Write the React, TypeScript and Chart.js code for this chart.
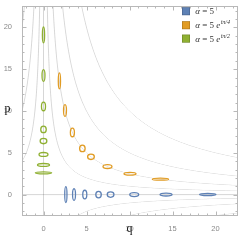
import React, { useEffect, useRef } from "react";
import { Chart, registerables } from "chart.js";

Chart.register(...registerables);

// ---- data ----
const seriesNames = ["α = 5", "α = 5 e", "α = 5 e"];
const seriesSups = ["", "iπ/4", "iπ/2"];
const seriesColors = ["#5e81b5", "#e19c24", "#8fb032"];

const blueQ = [2.6, 3.55, 4.8, 6.4, 7.8, 10.55, 14.25, 19.1];
const blueP = [0, 0, 0, 0, 0, 0, 0, 0];
const blueSemiQ = [0.13, 0.17, 0.235, 0.32, 0.39, 0.52, 0.7, 0.95];
const blueSemiP = [0.95, 0.7, 0.52, 0.39, 0.32, 0.235, 0.17, 0.13];

const orangeQ = [1.85, 2.5, 3.36, 4.52, 5.52, 7.44, 10.06, 13.6];
const orangeP = [13.6, 10.06, 7.44, 5.52, 4.52, 3.36, 2.5, 1.85];
const orangeSemiQ = [0.13, 0.17, 0.235, 0.32, 0.39, 0.52, 0.7, 0.95];
const orangeSemiP = [0.95, 0.7, 0.52, 0.39, 0.32, 0.235, 0.17, 0.13];

const greenQ = [0, 0, 0, 0, 0, 0, 0, 0];
const greenP = [19.1, 14.25, 10.55, 7.8, 6.4, 4.8, 3.55, 2.6];
const greenSemiQ = [0.13, 0.17, 0.235, 0.32, 0.39, 0.52, 0.7, 0.95];
const greenSemiP = [0.95, 0.7, 0.52, 0.39, 0.32, 0.235, 0.17, 0.13];

const contourLevels = [-50, -25, -10, 0, 10, 25, 50, 100];
const tickValues = [0, 5, 10, 15, 20];
const axisMin = -2.5;
const axisMax = 22.5;

function pts(q: number[], p: number[], rq: number[], rp: number[]) {
  return q.map((v, i) => ({ x: v, y: p[i], rq: rq[i], rp: rp[i] }));
}

const drawPlugin = {
  id: "phaseDraw",
  beforeDatasetsDraw(chart: any) {
    const ctx = chart.ctx;
    const a = chart.chartArea;
    const xs = chart.scales.x;
    const ys = chart.scales.y;
    ctx.save();
    ctx.beginPath();
    ctx.rect(a.left, a.top, a.right - a.left, a.bottom - a.top);
    ctx.clip();
    ctx.strokeStyle = "rgba(0,0,0,0.16)";
    ctx.lineWidth = 1;
    for (const c of contourLevels) {
      ctx.beginPath();
      if (c === 0) {
        const x0 = xs.getPixelForValue(0);
        const y0 = ys.getPixelForValue(0);
        ctx.moveTo(x0, a.top);
        ctx.lineTo(x0, a.bottom);
        ctx.moveTo(a.left, y0);
        ctx.lineTo(a.right, y0);
        ctx.stroke();
        continue;
      }
      let started = false;
      let prevSign = 0;
      for (let px = a.left; px <= a.right; px += 0.1) {
        const q = xs.getValueForPixel(px);
        if (Math.abs(q) < 1e-6) {
          started = false;
          continue;
        }
        const s = Math.sign(q);
        if (s !== prevSign) started = false;
        prevSign = s;
        let py = ys.getPixelForValue(c / q);
        py = Math.max(-2000, Math.min(2000, py));
        if (!started) {
          ctx.moveTo(px, py);
          started = true;
        } else ctx.lineTo(px, py);
      }
      ctx.stroke();
    }
    ctx.restore();
  },
  afterDatasetsDraw(chart: any) {
    const ctx = chart.ctx;
    const xs = chart.scales.x;
    const ys = chart.scales.y;
    ctx.save();
    chart.data.datasets.forEach((ds: any) => {
      ctx.strokeStyle = ds.borderColor;
      ctx.lineWidth = 1.3;
      for (const pt of ds.data) {
        const cx = xs.getPixelForValue(pt.x);
        const cy = ys.getPixelForValue(pt.y);
        const rx = Math.abs(xs.getPixelForValue(pt.x + pt.rq) - cx);
        const ry = Math.abs(ys.getPixelForValue(pt.y + pt.rp) - cy);
        ctx.beginPath();
        ctx.ellipse(cx, cy, rx, ry, 0, 0, Math.PI * 2);
        ctx.stroke();
      }
    });
    ctx.restore();
  },
  afterDraw(chart: any) {
    const ctx = chart.ctx;
    const a = chart.chartArea;
    const xs = chart.scales.x;
    const ys = chart.scales.y;
    ctx.save();
    // frame
    const L = Math.floor(a.left) + 0.5;
    const R = Math.floor(a.right) + 0.5;
    const T = Math.floor(a.top) + 0.5;
    const B = Math.floor(a.bottom) + 0.5;
    ctx.strokeStyle = "#b8b8b8";
    ctx.lineWidth = 1;
    ctx.strokeRect(L, T, R - L, B - T);
    ctx.beginPath();
    for (let v = Math.ceil(axisMin); v <= Math.floor(axisMax); v++) {
      const len = v % 5 === 0 ? 4 : 2;
      const px = Math.round(xs.getPixelForValue(v)) + 0.5;
      ctx.moveTo(px, B);
      ctx.lineTo(px, B - len);
      ctx.moveTo(px, T);
      ctx.lineTo(px, T + len);
      const py = Math.round(ys.getPixelForValue(v)) + 0.5;
      ctx.moveTo(L, py);
      ctx.lineTo(L + len, py);
      ctx.moveTo(R, py);
      ctx.lineTo(R - len, py);
    }
    ctx.stroke();

    // axis titles
    ctx.fillStyle = "#222";
    ctx.font = '12px "Liberation Serif"';
    ctx.textAlign = "center";
    ctx.textBaseline = "alphabetic";
    ctx.fillText("q", (a.left + a.right) / 2, 231.5);
    ctx.fillText("p", 7.5, 111.5);

    // legend
    const boxX = 182;
    const rows = [11.2, 25.2, 38.6];
    ctx.textAlign = "left";
    rows.forEach((cy, i) => {
      ctx.fillStyle = seriesColors[i];
      ctx.fillRect(boxX, cy - 4, 8, 8);
      ctx.strokeStyle = "rgba(0,0,0,0.25)";
      ctx.lineWidth = 0.6;
      ctx.strokeRect(boxX + 0.3, cy - 3.7, 7.4, 7.4);
      const base = cy + 3;
      let x = 195.3;
      ctx.fillStyle = "#333";
      ctx.font = 'italic 9px "Liberation Serif"';
      ctx.fillText("α", x, base);
      x += ctx.measureText("α").width;
      ctx.font = '9px "Liberation Serif"';
      const rest = seriesNames[i].slice(1).replace(/ e$/, "");
      ctx.fillText(rest, x, base);
      x += ctx.measureText(rest).width;
      if (seriesSups[i]) {
        x += ctx.measureText(" ").width;
        ctx.font = 'italic 9px "Liberation Serif"';
        ctx.fillText("e", x, base);
        x += ctx.measureText("e").width + 0.3;
        ctx.font = 'italic 6px "Liberation Serif"';
        ctx.fillText(seriesSups[i], x, base - 3.8);
      }
    });
    ctx.restore();
  },
};

export default function App() {
  const ref = useRef<HTMLCanvasElement | null>(null);
  useEffect(() => {
    if (!ref.current) return;
    const tickFont = { family: '"Liberation Sans", Arial, sans-serif', size: 7.5 };
    const chart = new Chart(ref.current, {
      type: "scatter",
      data: {
        datasets: [
          { label: seriesNames[0], data: pts(blueQ, blueP, blueSemiQ, blueSemiP), borderColor: seriesColors[0], backgroundColor: seriesColors[0], pointRadius: 0 },
          { label: seriesNames[1], data: pts(orangeQ, orangeP, orangeSemiQ, orangeSemiP), borderColor: seriesColors[1], backgroundColor: seriesColors[1], pointRadius: 0 },
          { label: seriesNames[2], data: pts(greenQ, greenP, greenSemiQ, greenSemiP), borderColor: seriesColors[2], backgroundColor: seriesColors[2], pointRadius: 0 },
        ] as any,
      },
      options: {
        responsive: false,
        animation: false,
        devicePixelRatio: 1,
        layout: { padding: { top: 0.5, right: 3, left: 0, bottom: 0 } },
        plugins: { legend: { display: false }, tooltip: { enabled: false } },
        scales: {
          x: {
            type: "linear",
            min: axisMin,
            max: axisMax,
            grid: { display: false },
            border: { display: false },
            ticks: { font: tickFont, color: "#8a8a8a", padding: 1, maxRotation: 0, autoSkip: false },
            afterBuildTicks: (s: any) => { s.ticks = tickValues.map((v) => ({ value: v })); },
            afterFit: (s: any) => { s.height = 24.5; },
          },
          y: {
            type: "linear",
            min: axisMin,
            max: axisMax,
            grid: { display: false },
            border: { display: false },
            ticks: { font: tickFont, color: "#8a8a8a", padding: 2, autoSkip: false },
            afterBuildTicks: (s: any) => { s.ticks = tickValues.map((v) => ({ value: v })); },
            afterFit: (s: any) => { s.width = 22; },
          },
        },
      } as any,
      plugins: [drawPlugin],
    });
    return () => chart.destroy();
  }, []);
  return (
    <div style={{ position: "absolute", left: 0, top: 0, width: 240, height: 240 }}>
      <canvas ref={ref} width={240} height={240} style={{ width: 240, height: 240 }} />
    </div>
  );
}
